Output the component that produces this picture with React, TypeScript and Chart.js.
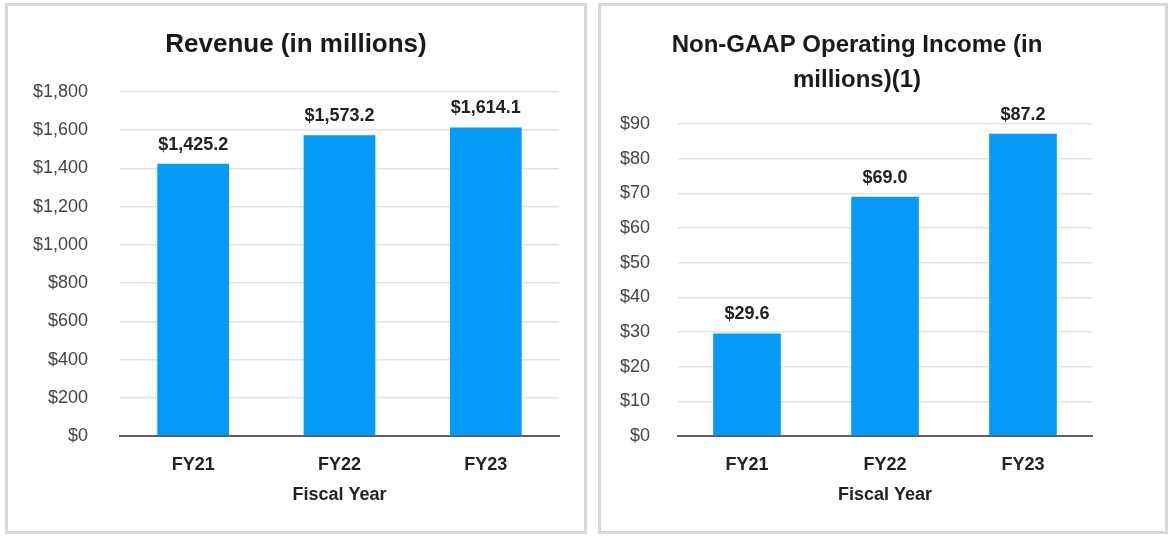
import React, { useEffect, useRef } from "react";
import { Chart, registerables } from "chart.js";

Chart.register(...registerables);

const categories = ["FY21", "FY22", "FY23"];
const revenueValues = [1425.2, 1573.2, 1614.1];
const incomeValues = [29.6, 69.0, 87.2];
const revenueTitle = ["Revenue (in millions)"];
const incomeTitle = ["Non-GAAP Operating Income (in", "millions)(1)"];
const xAxisTitle = "Fiscal Year";

const FONT = "'Liberation Sans', Arial, Helvetica, sans-serif";
const BAR_COLOR = "#049AF5";

const valueLabels = {
  id: "valueLabels",
  afterDatasetsDraw(chart: any) {
    const ctx = chart.ctx;
    const meta = chart.getDatasetMeta(0);
    const data = chart.data.datasets[0].data as number[];
    ctx.save();
    ctx.font = `bold 18px ${FONT}`;
    ctx.fillStyle = "#222222";
    ctx.textAlign = "center";
    ctx.textBaseline = "middle";
    meta.data.forEach((el: any, i: number) => {
      const v = data[i];
      const txt =
        "$" +
        v.toLocaleString("en-US", { minimumFractionDigits: 1, maximumFractionDigits: 1 });
      ctx.fillText(txt, el.x, el.y - 19);
    });
    ctx.restore();
  },
};

const centeredTitle = {
  id: "centeredTitle",
  afterDraw(chart: any, _args: any, opts: any) {
    const ctx = chart.ctx;
    ctx.save();
    ctx.font = `bold ${opts.size}px ${FONT}`;
    ctx.fillStyle = "#1a1a1a";
    ctx.textAlign = "center";
    ctx.textBaseline = "middle";
    (opts.lines as string[]).forEach((line, i) => {
      ctx.fillText(line, opts.x, opts.y + i * opts.lineGap);
    });
    ctx.restore();
  },
};

type PanelProps = {
  left: number;
  width: number;
  values: number[];
  title: string[];
  titleSize: number;
  titleX: number;
  max: number;
  step: number;
  axisWidth: number;
  tickPad: number;
  rightPad: number;
  topPad: number;
};

function Panel(p: PanelProps) {
  const ref = useRef<HTMLCanvasElement | null>(null);
  const innerW = p.width - 6;
  const innerH = 525;
  useEffect(() => {
    if (!ref.current) return;
    const chart = new Chart(ref.current, {
      type: "bar",
      data: {
        labels: categories,
        datasets: [
          {
            data: p.values,
            backgroundColor: BAR_COLOR,
            borderWidth: 0,
            categoryPercentage: 1,
            barPercentage: 0.49,
          },
        ],
      },
      options: {
        animation: false,
        responsive: false,
        layout: { padding: { left: 0, right: p.rightPad, top: p.topPad, bottom: 25 } },
        plugins: {
          legend: { display: false },
          tooltip: { enabled: false },
          title: { display: false },
          centeredTitle: {
            lines: p.title,
            size: p.titleSize,
            x: p.titleX,
            y: 39,
            lineGap: 35,
          },
        } as any,
        scales: {
          x: {
            grid: { display: false, drawTicks: false },
            border: { display: true, color: "#5f5f5f", width: 2 },
            ticks: {
              color: "#222222",
              padding: 18,
              font: { family: FONT, size: 18, weight: "bold" },
            },
            title: {
              display: true,
              text: xAxisTitle,
              color: "#222222",
              font: { family: FONT, size: 18, weight: "bold" },
              padding: { top: 8, bottom: 0 },
            },
            afterFit: (s: any) => {
              s.height = 70;
            },
          },
          y: {
            min: 0,
            max: p.max,
            grid: { color: "#e3e3e3", lineWidth: 1.5, drawTicks: false },
            border: { display: false },
            ticks: {
              stepSize: p.step,
              color: "#444444",
              padding: p.tickPad,
              font: { family: FONT, size: 18 },
              callback: (v: any) => "$" + Number(v).toLocaleString("en-US"),
            },
            afterFit: (s: any) => {
              s.width = p.axisWidth;
            },
          },
        },
      },
      plugins: [valueLabels, centeredTitle],
    });
    return () => chart.destroy();
  }, []);
  return (
    <div
      style={{
        position: "absolute",
        left: p.left,
        top: 3,
        width: p.width,
        height: 531,
        boxSizing: "border-box",
        border: "3px solid #d9d9d9",
        background: "#fff",
      }}
    >
      <canvas
        ref={ref}
        width={innerW}
        height={innerH}
        style={{ display: "block", width: innerW, height: innerH }}
      />
    </div>
  );
}

export default function App() {
  return (
    <div style={{ position: "absolute", left: 0, top: 0, width: 1172, height: 538, background: "#fff" }}>
      <Panel
        left={5}
        width={582}
        values={revenueValues}
        title={revenueTitle}
        titleSize={26}
        titleX={288}
        max={1800}
        step={200}
        axisWidth={112}
        tickPad={32}
        rightPad={25}
        topPad={86}
      />
      <Panel
        left={598}
        width={570}
        values={incomeValues}
        title={incomeTitle}
        titleSize={24}
        titleX={256}
        max={90}
        step={10}
        axisWidth={77}
        tickPad={28}
        rightPad={73}
        topPad={118}
      />
    </div>
  );
}
